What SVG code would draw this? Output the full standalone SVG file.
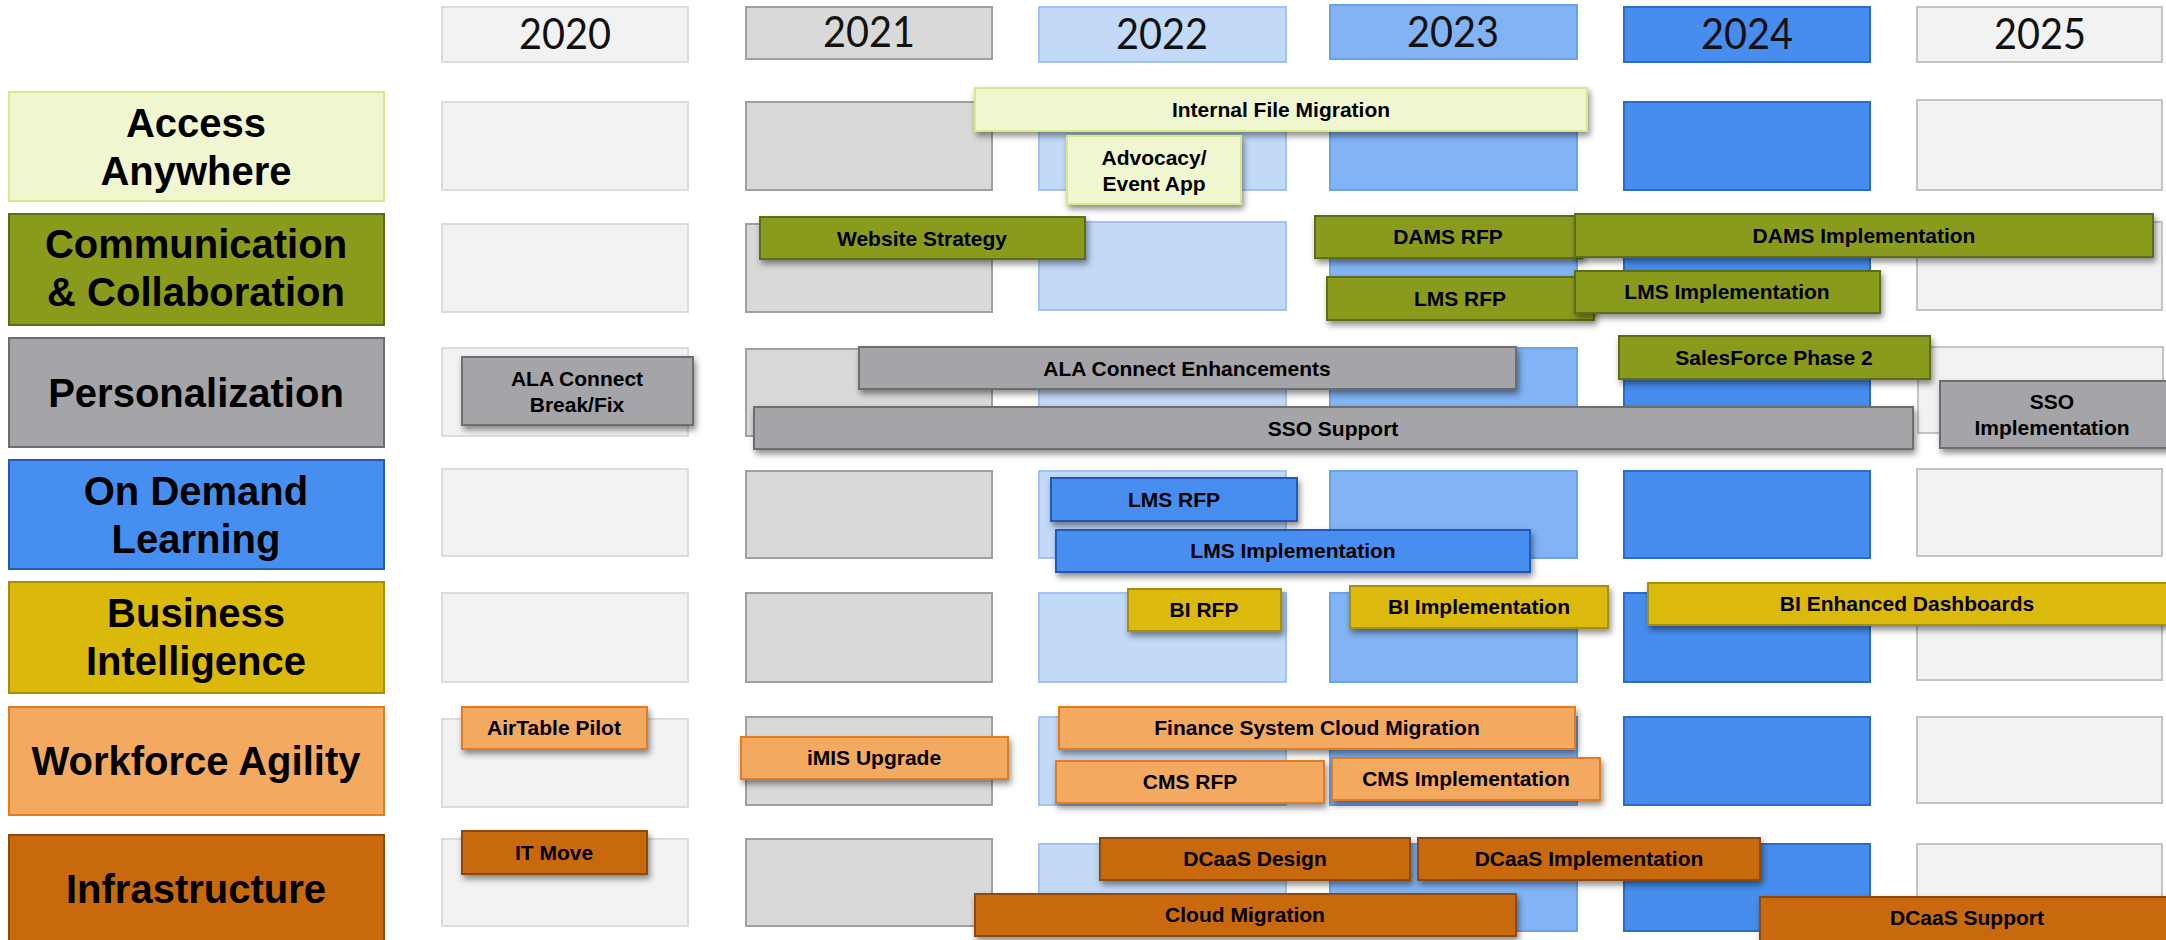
<svg xmlns="http://www.w3.org/2000/svg" width="2166" height="940" viewBox="0 0 2166 940">
<defs>
<filter id="sh" x="-10%" y="-30%" width="125%" height="180%">
<feDropShadow dx="2" dy="4" stdDeviation="3" flood-color="#000" flood-opacity="0.45"/>
</filter>
<style>
.cat{font-family:"Liberation Sans",Arial,sans-serif;font-weight:bold;font-size:40px;text-anchor:middle;fill:#000}
.bt{font-family:"Liberation Sans",Arial,sans-serif;font-weight:bold;font-size:21px;text-anchor:middle;fill:#000}
.yr{font-family:Lato,"Open Sans",sans-serif;font-size:43px;text-anchor:middle;fill:#111}
.cell{stroke-width:2}
.c20{fill:#f2f2f2;stroke:#dcdcdc}
.c21{fill:#d9d9d9;stroke:#a0a0a0}
.c22{fill:#c2d9f7;stroke:#a3c4f3}
.c23{fill:#82b3f4;stroke:#6aa2ee}
.c24{fill:#478ded;stroke:#2a6bd0}
.c25{fill:#f2f2f2;stroke:#c4c4c4}
.bar{filter:url(#sh);stroke-width:2}
.cb{stroke-width:2}
.acc{fill:#f0f7d0;stroke:#d5ea88}
.com{fill:#8a9a1b;stroke:#5f6d12}
.per{fill:#a5a4a8;stroke:#6e6e6e}
.odl{fill:#468ef0;stroke:#2459b8}
.bi{fill:#dbb90b;stroke:#a98d08}
.wf{fill:#f4a960;stroke:#e07d22}
.inf{fill:#c8690e;stroke:#8e4a0a}
</style>
</defs>
<rect width="2166" height="940" fill="#fff"/>

<g id="year-headers">
<g id="y2020"><rect class="cell c20" x="442" y="7" width="246" height="55"/><text class="yr" x="565" y="49" textLength="92" lengthAdjust="spacingAndGlyphs">2020</text></g>
<g id="y2021"><rect class="cell c21" x="746" y="7" width="246" height="52"/><text class="yr" x="869" y="47" textLength="92" lengthAdjust="spacingAndGlyphs">2021</text></g>
<g id="y2022"><rect class="cell c22" x="1039" y="7" width="247" height="55"/><text class="yr" x="1162" y="49" textLength="92" lengthAdjust="spacingAndGlyphs">2022</text></g>
<g id="y2023"><rect class="cell c23" x="1330" y="5" width="247" height="54"/><text class="yr" x="1453" y="47" textLength="92" lengthAdjust="spacingAndGlyphs">2023</text></g>
<g id="y2024"><rect class="cell c24" x="1624" y="7" width="246" height="55"/><text class="yr" x="1747" y="49" textLength="92" lengthAdjust="spacingAndGlyphs">2024</text></g>
<g id="y2025"><rect class="cell c25" x="1917" y="7" width="245" height="55"/><text class="yr" x="2040" y="49" textLength="92" lengthAdjust="spacingAndGlyphs">2025</text></g>
</g>

<g id="grid-cells">
<g id="row1-cells">
<rect class="cell c20" x="442" y="102" width="246" height="88"/><rect class="cell c21" x="746" y="102" width="246" height="88"/><rect class="cell c22" x="1039" y="102" width="247" height="88"/><rect class="cell c23" x="1330" y="102" width="247" height="88"/><rect class="cell c24" x="1624" y="102" width="246" height="88"/><rect class="cell c25" x="1917" y="100" width="245" height="90"/>
</g>
<g id="row2-cells">
<rect class="cell c20" x="442" y="224" width="246" height="88"/><rect class="cell c21" x="746" y="224" width="246" height="88"/><rect class="cell c22" x="1039" y="222" width="247" height="88"/><rect class="cell c23" x="1330" y="222" width="247" height="88"/><rect class="cell c24" x="1624" y="222" width="246" height="88"/><rect class="cell c25" x="1917" y="222" width="245" height="88"/>
</g>
<g id="row3-cells">
<rect class="cell c20" x="442" y="348" width="246" height="88"/><rect class="cell c21" x="746" y="349" width="246" height="87"/><rect class="cell c22" x="1039" y="348" width="247" height="88"/><rect class="cell c23" x="1330" y="348" width="247" height="88"/><rect class="cell c24" x="1624" y="348" width="246" height="88"/><rect class="cell c25" x="1918" y="347" width="245" height="86"/>
</g>
<g id="row4-cells">
<rect class="cell c20" x="442" y="469" width="246" height="87"/><rect class="cell c21" x="746" y="471" width="246" height="87"/><rect class="cell c22" x="1039" y="471" width="247" height="87"/><rect class="cell c23" x="1330" y="471" width="247" height="87"/><rect class="cell c24" x="1624" y="471" width="246" height="87"/><rect class="cell c25" x="1917" y="469" width="245" height="87"/>
</g>
<g id="row5-cells">
<rect class="cell c20" x="442" y="593" width="246" height="89"/><rect class="cell c21" x="746" y="593" width="246" height="89"/><rect class="cell c22" x="1039" y="593" width="247" height="89"/><rect class="cell c23" x="1330" y="593" width="247" height="89"/><rect class="cell c24" x="1624" y="593" width="246" height="89"/><rect class="cell c25" x="1917" y="593" width="245" height="87"/>
</g>
<g id="row6-cells">
<rect class="cell c20" x="442" y="719" width="246" height="88"/><rect class="cell c21" x="746" y="717" width="246" height="88"/><rect class="cell c22" x="1039" y="717" width="247" height="88"/><rect class="cell c23" x="1330" y="717" width="247" height="88"/><rect class="cell c24" x="1624" y="717" width="246" height="88"/><rect class="cell c25" x="1917" y="717" width="245" height="86"/>
</g>
<g id="row7-cells">
<rect class="cell c20" x="442" y="839" width="246" height="87"/><rect class="cell c21" x="746" y="839" width="246" height="87"/><rect class="cell c22" x="1039" y="844" width="247" height="87"/><rect class="cell c23" x="1330" y="844" width="247" height="87"/><rect class="cell c24" x="1624" y="844" width="246" height="87"/><rect class="cell c25" x="1917" y="844" width="245" height="87"/>
</g>
</g>

<g id="categories">
<g id="cat-access"><rect class="cb acc" x="9" y="92" width="375" height="109"/><text class="cat" x="196" y="137">Access</text><text class="cat" x="196" y="185">Anywhere</text></g>
<g id="cat-comm"><rect class="cb com" x="9" y="214" width="375" height="111"/><text class="cat" x="196" y="258">Communication</text><text class="cat" x="196" y="306">&amp; Collaboration</text></g>
<g id="cat-pers"><rect class="cb per" x="9" y="338" width="375" height="109"/><text class="cat" x="196" y="407">Personalization</text></g>
<g id="cat-odl"><rect class="cb odl" x="9" y="460" width="375" height="109"/><text class="cat" x="196" y="505">On Demand</text><text class="cat" x="196" y="553">Learning</text></g>
<g id="cat-bi"><rect class="cb bi" x="9" y="582" width="375" height="111"/><text class="cat" x="196" y="627">Business</text><text class="cat" x="196" y="675">Intelligence</text></g>
<g id="cat-wf"><rect class="cb wf" x="9" y="707" width="375" height="108"/><text class="cat" x="196" y="775">Workforce Agility</text></g>
<g id="cat-inf"><rect class="cb inf" x="9" y="835" width="375" height="110"/><text class="cat" x="196" y="903">Infrastructure</text></g>
</g>

<g id="connectors"/>

<g id="tasks">
<g id="t-internal-file"><rect class="bar acc" x="975" y="88" width="612" height="43"/><text class="bt" x="1281" y="117">Internal File Migration</text></g>
<g id="t-advocacy"><rect class="bar acc" x="1067" y="136" width="174" height="68"/><text class="bt" x="1154" y="165">Advocacy/</text><text class="bt" x="1154" y="191">Event App</text></g>

<g id="t-website"><rect class="bar com" x="760" y="217" width="325" height="42"/><text class="bt" x="922" y="246">Website Strategy</text></g>
<g id="t-dams-rfp"><rect class="bar com" x="1315" y="216" width="267" height="42"/><text class="bt" x="1448" y="244">DAMS RFP</text></g>
<g id="t-lms-rfp-c"><rect class="bar com" x="1327" y="277" width="267" height="43"/><text class="bt" x="1460" y="306">LMS RFP</text></g>
<g id="t-dams-impl"><rect class="bar com" x="1575" y="214" width="578" height="43"/><text class="bt" x="1864" y="243">DAMS Implementation</text></g>
<g id="t-lms-impl-c"><rect class="bar com" x="1575" y="271" width="305" height="42"/><text class="bt" x="1727" y="299">LMS Implementation</text></g>

<g id="t-ala-fix"><rect class="bar per" x="462" y="357" width="231" height="68"/><text class="bt" x="577" y="386">ALA Connect</text><text class="bt" x="577" y="412">Break/Fix</text></g>
<g id="t-ala-enh"><rect class="bar per" x="859" y="347" width="657" height="42"/><text class="bt" x="1187" y="376">ALA Connect Enhancements</text></g>
<g id="t-salesforce"><rect class="bar com" x="1619" y="336" width="311" height="43"/><text class="bt" x="1774" y="365">SalesForce Phase 2</text></g>
<g id="t-sso-support"><rect class="bar per" x="754" y="407" width="1159" height="42"/><text class="bt" x="1333" y="436">SSO Support</text></g>
<g id="t-sso-impl"><rect class="bar per" x="1940" y="381" width="230" height="67"/><text class="bt" x="2052" y="409">SSO</text><text class="bt" x="2052" y="435">Implementation</text></g>

<g id="t-lms-rfp"><rect class="bar odl" x="1051" y="478" width="246" height="43"/><text class="bt" x="1174" y="507">LMS RFP</text></g>
<g id="t-lms-impl"><rect class="bar odl" x="1056" y="530" width="474" height="42"/><text class="bt" x="1293" y="558">LMS Implementation</text></g>

<g id="t-bi-rfp"><rect class="bar bi" x="1128" y="589" width="153" height="42"/><text class="bt" x="1204" y="617">BI RFP</text></g>
<g id="t-bi-impl"><rect class="bar bi" x="1350" y="586" width="258" height="42"/><text class="bt" x="1479" y="614">BI Implementation</text></g>
<g id="t-bi-dash"><rect class="bar bi" x="1648" y="583" width="525" height="42"/><text class="bt" x="1907" y="611">BI Enhanced Dashboards</text></g>

<g id="t-airtable"><rect class="bar wf" x="462" y="707" width="185" height="42"/><text class="bt" x="554" y="735">AirTable Pilot</text></g>
<g id="t-imis"><rect class="bar wf" x="741" y="737" width="267" height="42"/><text class="bt" x="874" y="765">iMIS Upgrade</text></g>
<g id="t-finance"><rect class="bar wf" x="1059" y="707" width="516" height="42"/><text class="bt" x="1317" y="735">Finance System Cloud Migration</text></g>
<g id="t-cms-rfp"><rect class="bar wf" x="1056" y="761" width="268" height="42"/><text class="bt" x="1190" y="789">CMS RFP</text></g>
<g id="t-cms-impl"><rect class="bar wf" x="1332" y="758" width="268" height="42"/><text class="bt" x="1466" y="786">CMS Implementation</text></g>

<g id="t-it-move"><rect class="bar inf" x="462" y="831" width="185" height="43"/><text class="bt" x="554" y="860">IT Move</text></g>
<g id="t-dcaas-design"><rect class="bar inf" x="1100" y="838" width="310" height="42"/><text class="bt" x="1255" y="866">DCaaS Design</text></g>
<g id="t-dcaas-impl"><rect class="bar inf" x="1418" y="838" width="342" height="42"/><text class="bt" x="1589" y="866">DCaaS Implementation</text></g>
<g id="t-cloud-mig"><rect class="bar inf" x="975" y="894" width="541" height="42"/><text class="bt" x="1245" y="922">Cloud Migration</text></g>
<g id="t-dcaas-support"><rect class="bar inf" x="1760" y="897" width="414" height="50"/><text class="bt" x="1967" y="925">DCaaS Support</text></g>
</g>
</svg>
